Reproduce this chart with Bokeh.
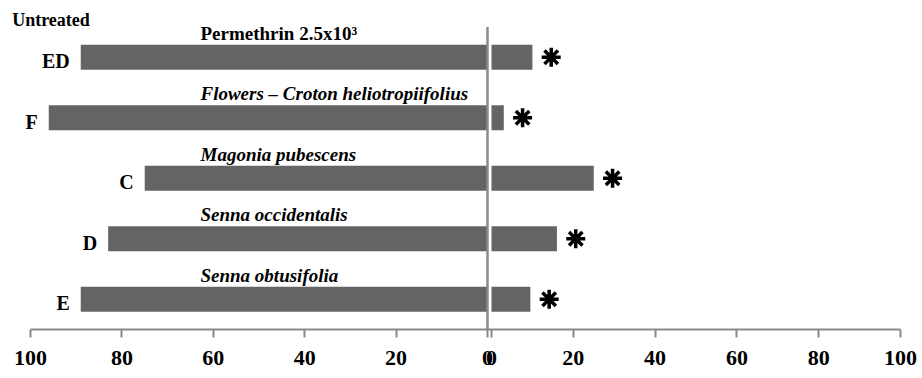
from bokeh.plotting import figure
from bokeh.models import (Range1d, FixedTicker, ColumnDataSource, Label,
                          CustomJSTickFormatter)
from bokeh.embed import file_html
from bokeh.resources import INLINE

# ---- data ----
categories = ["ED", "F", "C", "D", "E"]
species = ["Permethrin 2.5x10\u00b3", "Flowers \u2013 Croton heliotropiifolius",
           "Magonia pubescens", "Senna occidentalis", "Senna obtusifolia"]
untreated = [89, 96, 75, 83, 89]
treated = [10, 3, 25, 16, 9.5]
tick_values = [0, 20, 40, 60, 80, 100]
untreated_title = "Untreated"

# ---- style ----
BAR = "#646464"
GRAY = "#8a8a8a"
FONT = "Liberation Serif"
FRAME_H = 329
ROW_PX = 60.5

n = len(categories)
ypos = [n - i - 0.5 for i in range(n)]
ymax = FRAME_H / ROW_PX

# main (left, "untreated") scale runs right-to-left; right side has its own scale
L0, L1 = 106.56, -95.19
R0, R1 = -120.05, 105.38


def r2m(t):
    return L0 + (t - R0) * (L1 - L0) / (R1 - R0)


p = figure(frame_width=922, frame_height=FRAME_H,
           x_range=Range1d(L0, L1), y_range=Range1d(0, ymax),
           y_axis_location=None, min_border=0, min_border_bottom=49,
           output_backend="svg", toolbar_location=None)
p.extra_x_ranges = {"right": Range1d(R0, R1)}
p.grid.visible = False
p.outline_line_color = None

ax = p.xaxis[0]
ax.ticker = FixedTicker(ticks=tick_values + [r2m(t) for t in tick_values])
ax.formatter = CustomJSTickFormatter(
    args=dict(L0=L0, L1=L1, R0=R0, R1=R1),
    code="""
    if (tick >= 0) { return String(Math.round(tick)); }
    const r = R0 + (tick - L0) * (R1 - R0) / (L1 - L0);
    return String(Math.round(r));
""")
ax.bounds = (100, r2m(100))
ax.axis_line_color = GRAY
ax.axis_line_width = 2
ax.major_tick_line_color = GRAY
ax.major_tick_line_width = 2
ax.major_tick_in = 0
ax.major_tick_out = 8
ax.minor_tick_in = 0
ax.minor_tick_out = 0
ax.major_label_standoff = 13
ax.major_label_text_font = FONT
ax.major_label_text_font_style = "bold"
ax.major_label_text_font_size = "22px"
ax.major_label_text_color = "black"

# ---- left (untreated) ----
src1 = ColumnDataSource(dict(
    y=ypos, val=untreated, cat=categories, species=species,
    fstyle=["bold" if s.startswith("Permethrin") else "bold italic" for s in species],
))
p.hbar(y="y", left=0, right="val", height=0.413, fill_color=BAR,
       line_color=None, source=src1)
p.text(x="val", y="y", text="cat", source=src1, text_align="right",
       text_baseline="middle", x_offset=-11, y_offset=4,
       text_font=FONT, text_font_style="bold", text_font_size="20px",
       text_color="black")
p.text(x=62.8, y="y", text="species", source=src1, text_align="left",
       text_baseline="middle", y_offset=-24,
       text_font=FONT, text_font_style="fstyle", text_font_size="19px",
       text_color="black")
p.segment(x0=0, y0=0, x1=0, y1=n, line_color=GRAY, line_width=2.5)
p.add_layout(Label(x=104, y=5.12, text=untreated_title, text_align="left",
                   text_baseline="middle", text_font=FONT,
                   text_font_style="bold", text_font_size="18px",
                   text_color="black"))

# ---- right (treated) ----
src2 = ColumnDataSource(dict(y=ypos, val=treated,
                             ax=[v + 4.6 for v in treated]))
p.hbar(y="y", left=0, right="val", height=0.413, fill_color=BAR,
       line_color=None, source=src2, x_range_name="right")
p.scatter(x="ax", y="y", source=src2, marker="asterisk", size=19,
          line_width=3.5, line_color="black", x_range_name="right")

open("out.html", "w").write(file_html(p, INLINE))
